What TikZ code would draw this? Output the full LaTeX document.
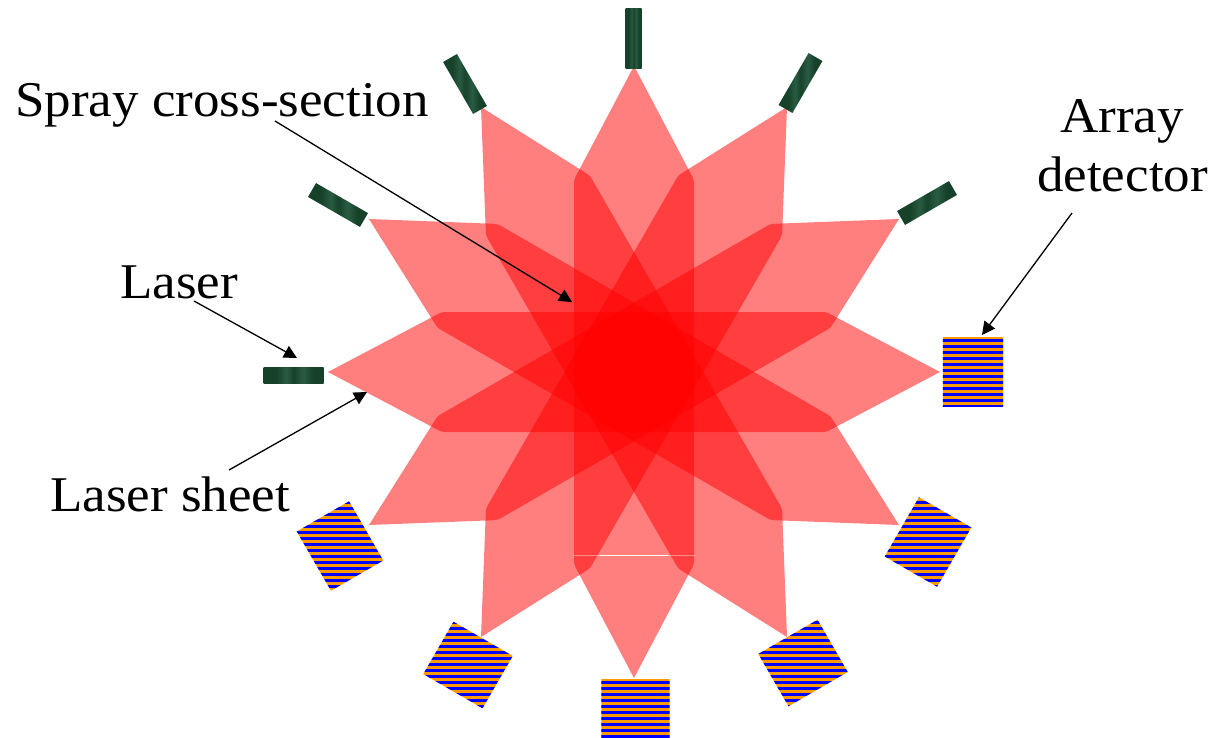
\documentclass[tikz,border=0pt]{standalone}
\usepackage{fontspec}
\setmainfont[FakeStretch=1.06]{Liberation Serif}
\usetikzlibrary{arrows.meta}
\definecolor{detorange}{RGB}{255,153,0}
\definecolor{detblue}{RGB}{0,0,255}
\definecolor{lasd}{RGB}{22,66,42}
\definecolor{lasl}{RGB}{42,92,66}
\pgfdeclarehorizontalshading{lasertex}{100bp}{
  color(0bp)=(lasd);
  color(36bp)=(lasd);
  color(44bp)=(lasl);
  color(50bp)=(lasd);
  color(58bp)=(lasl);
  color(66bp)=(lasd);
  color(100bp)=(lasd)}
\tikzset{
  sheet/.style={fill=red,fill opacity=.5},
  laserbar/.style={rectangle,inner sep=0pt,minimum width=60pt,minimum height=16pt,shading=lasertex,draw=none},
  detbox/.style={rectangle,inner sep=0pt,minimum width=60pt,minimum height=68pt,draw=none},
  lbl/.style={inner sep=0pt,anchor=base west,font=\fontsize{50}{55}\selectfont,text=black},
  pointer/.style={draw=black,line width=1.3pt,-{Triangle[length=13pt,width=13pt]}}
}
\newcommand{\sheetat}[1]{%
  \fill[sheet,rotate around={#1:(cen)},shift={(cen)}]
    (-306,0) -- (-196,-58) [rounded corners=3pt] -- (-192,-60) -- (192,-60) [sharp corners] -- (196,-58) -- (306,0)
    -- (196,58) [rounded corners=3pt] -- (192,60) -- (-192,60) [sharp corners] -- (-196,58) -- cycle;}
% name, x, y, rotation, first row of blue (image rows, every 6)
\newcommand{\detector}[5]{%
  \node[detbox,rotate=#4] (#1) at (#2,#3) {};
  \begin{scope}
    \clip (#1.north west) -- (#1.north east) -- (#1.south east) -- (#1.south west) -- cycle;
    \fill[detorange] (#2-70,#3-70) rectangle (#2+70,#3+70);
    \foreach \k in {0,...,24}
      \fill[detblue] (#2-70,#5+6*\k+0.1) rectangle (#2+70,#5+6*\k+3.4);
  \end{scope}}
\begin{document}
\begin{tikzpicture}[x=1pt,y=-1pt]
\fill[white] (0,0) rectangle (1215,738);
\clip (0,0) rectangle (1215,738);
\coordinate (cen) at (634,372);
\foreach \a in {0,30,60,90,120,150} {\sheetat{\a}}
% seam at the foot of the vertical sheet
\draw[white,opacity=.4,line width=1pt] (573,555) -- (695,555);
\draw[white,line width=1pt] (600,555) -- (668,555);
% lasers
\node[laserbar] (L1) at (293.5,375) {};
\node[laserbar,rotate=-30] (L2) at (338,205) {};
\node[laserbar,rotate=-60] (L3) at (465,84) {};
\node[laserbar,rotate=90] (L4) at (633.5,38.5) {};
\node[laserbar,rotate=60] (L5) at (800.5,83) {};
\node[laserbar,rotate=30] (L6) at (927,203) {};
% detectors
\detector{D1}{973}{372}{0}{309}
\detector{D2}{928}{542}{-30}{477}
\detector{D3}{803}{663}{-60}{597}
\detector{D4}{635.5}{710}{-90}{651}
\detector{D5}{468}{665}{-120}{597}
\detector{D6}{340}{546}{-150}{477}
% labels
\node[lbl] (spray) at (15,117) {Spray cross-section};
\node[lbl] (laser) at (120,298) {Laser};
\node[lbl] (lsheet) at (50,511) {Laser sheet};
\node[lbl] (array) at (1060,133) {Array};
\node[lbl] (det) at (1037,192) {detector};
% connectors
\coordinate (s0) at (275,121); \coordinate (s1) at (572,302);
\coordinate (l0) at (194,301); \coordinate (l1) at (297,358);
\coordinate (h0) at (229,470); \coordinate (h1) at (367,392);
\coordinate (a0) at (1072,213); \coordinate (a1) at (982,335);
\draw[pointer] (s0) -- (s1);
\draw[pointer] (l0) -- (l1);
\draw[pointer] (h0) -- (h1);
\draw[pointer] (a0) -- (a1);
\end{tikzpicture}
\end{document}
